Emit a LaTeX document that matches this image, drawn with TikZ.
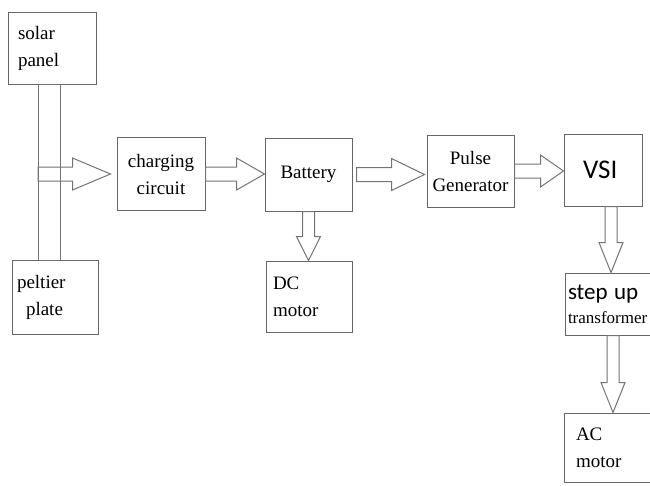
\documentclass[tikz,border=0pt]{standalone}
\usepackage{fontspec}
\setmainfont{Liberation Serif}
\newfontfamily\calfont{Carlito}
\usepackage{tikz}
\usetikzlibrary{calc,positioning}

% hollow block arrows: tail, tip, head length
\newcommand{\hblock}[3]{%
  \coordinate (t) at (#1); \coordinate (h) at (#2);
  \draw[blk] ($(t)+(0,-7)$) -- ($(h)+(-#3,-7)$) -- ($(h)+(-#3,-16)$) -- (h)
    -- ($(h)+(-#3,16)$) -- ($(h)+(-#3,7)$) -- ($(t)+(0,7)$) -- cycle;}
\newcommand{\vblock}[3]{%
  \coordinate (t) at (#1); \coordinate (h) at (#2);
  \draw[blk] ($(t)+(-6,0)$) -- ($(h)+(-6,-#3)$) -- ($(h)+(-12,-#3)$) -- (h)
    -- ($(h)+(12,-#3)$) -- ($(h)+(6,-#3)$) -- ($(t)+(6,0)$) -- cycle;}

\begin{document}
\begin{tikzpicture}[x=1pt,y=-1pt,
  every node/.style={font=\fontsize{19pt}{27pt}\selectfont},
  box/.style={draw=black!60,line width=1pt,inner sep=0pt,align=center},
  blk/.style={draw=black!55,line width=1pt,line join=miter}]
\clip (0,0) rectangle (650,485);
\fill[white] (0,0) rectangle (650,485);
\node[box,minimum width=88,minimum height=72,text width=68,align=left] (sol) at (52,48) {solar\\panel};
\node[box,minimum width=86,minimum height=74,text width=76,align=left] (pel) at (55,297.5) {peltier\\\hspace*{9pt}plate};
\node[box,minimum width=88,minimum height=73] (chg) at (161,174) {charging\\circuit};
\node[box,minimum width=87,minimum height=73] (bat) at (308.5,174.5) {Battery};
\node[box,minimum width=86,minimum height=71,text width=72,align=left] (dc) at (309,296.5) {DC\\motor};
\node[box,minimum width=87,minimum height=72] (pul) at (470.5,171) {Pulse\\Generator};
\node[box,minimum width=78,minimum height=72,text width=40,align=left,
  font=\calfont\fontsize{27pt}{30pt}\selectfont] (vsi) at (603,170) {VSI};
\node[box,minimum width=96,minimum height=62,text width=90,align=left] (stp) at (613,304)
  {{\calfont\fontsize{23pt}{23pt}\selectfont step up}\\[-3pt]{\fontsize{17pt}{20pt}\selectfont transformer}};
\node[box,minimum width=96,minimum height=69,text width=72,align=left] (ac) at (612,447.5) {AC\\motor};

% bar joining solar panel and peltier plate
\draw[blk] ($(sol.south west)+(31,0)$) rectangle ($(pel.north west)+(49,0)$);
\coordinate (tap) at (38,174);
\coordinate (vout) at ($(vsi.south)+(8,0)$);

\hblock{tap}{$(tap -| chg.west)+(-6,0)$}{38}
\hblock{chg.east}{chg.east -| bat.west}{28}
\hblock{$(bat.east)+(4,0)$}{$(bat.east -| pul.west)+(-2,0)$}{33}
\hblock{pul.east}{pul.east -| vsi.west}{23}
\vblock{bat.south}{bat.south |- dc.north}{24}
\vblock{vout}{vout |- stp.north}{30}
\vblock{stp.south}{stp.south |- ac.north}{30}
\end{tikzpicture}
\end{document}
